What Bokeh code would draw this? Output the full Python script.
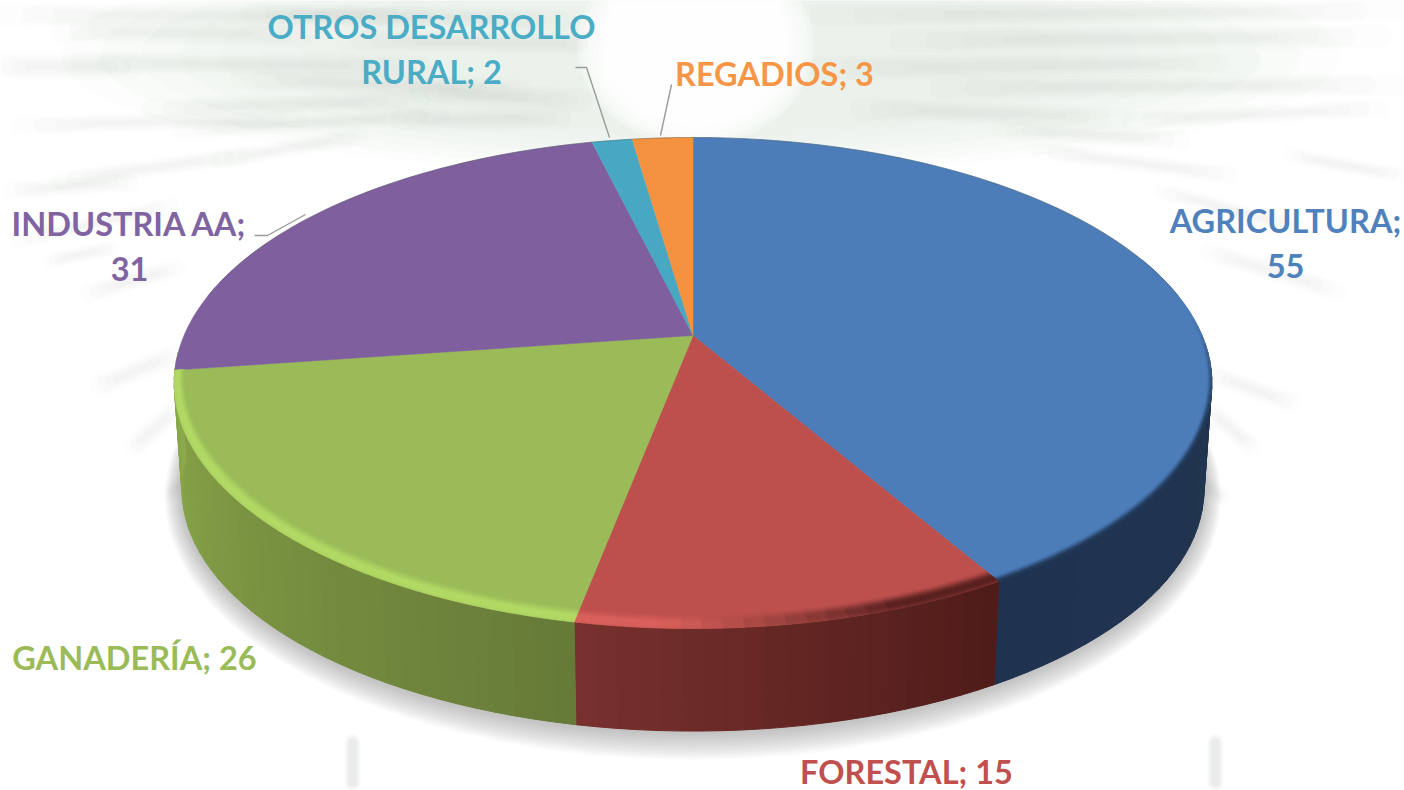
import math
from bokeh.plotting import figure
from bokeh.models import Range1d, ColumnDataSource
from bokeh.core.properties import value
from bokeh.embed import file_html
from bokeh.resources import INLINE

categories = ["AGRICULTURA", "FORESTAL", "GANADERÍA", "INDUSTRIA AA", "OTROS DESARROLLO RURAL", "REGADIOS"]
values = [55, 15, 26, 31, 2, 3]
colors = ["#4c7db9", "#bd504d", "#9bbb59", "#7f5f9e", "#48a8c4", "#f59240"]
label_lines = [["AGRICULTURA;", "55"], ["FORESTAL; 15"], ["GANADERÍA; 26"],
               ["INDUSTRIA AA;", "31"], ["OTROS DESARROLLO", "RURAL; 2"], ["REGADIOS; 3"]]
label_pos = [(1285, 220), (906, 771), (134, 657), (129, 223), (431, 26), (774, 73)]
LINE_GAP = 46
leaders = [([254, 267, 305], [235, 235, 214]), ([575, 586, 609], [67, 67, 137]), ([671, 660], [84, 135])]

# projection of the tilted disc
CX, CY, RX, RY, K = 692.5, 335.0, 509.0, 236.3, 0.1935
DEPTH, BASE_SCALE = 107.0, 0.985

def proj(theta, r=1.0, base=False):
    a = math.radians(theta)
    u, v = r * math.sin(a), r * math.cos(a)
    w = 1 + K * v
    s, dy = (BASE_SCALE, DEPTH) if base else (1.0, 0.0)
    return CX + s * RX * u / w, CY + dy - s * RY * v / w

def hex2(c):
    return tuple(int(c[i:i + 2], 16) for i in (1, 3, 5))

def mix(a, b, t):
    t = max(0.0, min(1.0, t))
    ca, cb = hex2(a), hex2(b)
    return "#%02x%02x%02x" % tuple(round(x + (y - x) * t) for x, y in zip(ca, cb))

def frange(a, b, step=1.0):
    n = max(1, int(math.ceil((b - a) / step)))
    return [a + (b - a) * i / n for i in range(n + 1)]

p = figure(width=1404, height=790, x_range=Range1d(0, 1404), y_range=Range1d(790, 0),
           output_backend="svg", toolbar_location=None, min_border=0,
           background_fill_color="white", border_fill_color="white")
p.axis.visible = False
p.grid.visible = False
p.outline_line_color = None

# ---------- background artwork (faint sunburst) ----------
def blob(cx, cy, rx, ry, col, a):
    p.ellipse([cx], [cy], width=2 * rx, height=2 * ry, fill_color=col, fill_alpha=a, line_color=None)

for i in range(8):
    blob(700, 55, 640 - 40 * i, 118 - 6 * i, "#dcecdf", 0.09)

streaks = [
    (0, 14, 420, 16, 11), (60, 30, 300, 34, 12), (0, 66, 130, 66, 13), (80, 62, 420, 66, 11), (240, 78, 520, 90, 11),
    (250, 12, 560, 20, 10), (360, 40, 620, 44, 10), (420, 92, 580, 100, 12), (20, 125, 300, 118, 9),
    (150, 108, 420, 100, 10), (60, 180, 240, 155, 9), (12, 190, 130, 182, 9), (180, 130, 440, 115, 9),
    (90, 292, 175, 268, 10), (100, 385, 172, 355, 11), (135, 445, 172, 412, 11), (170, 492, 180, 484, 9),
    (20, 240, 170, 205, 8), (50, 260, 110, 248, 8), (220, 160, 360, 135, 9), (400, 120, 560, 118, 11),
    (820, 15, 1400, 10, 11), (900, 40, 1380, 36, 12), (820, 68, 1250, 62, 12), (940, 88, 1400, 84, 11),
    (860, 108, 1120, 118, 11), (1130, 120, 1380, 108, 9), (1040, 150, 1230, 175, 9), (1000, 128, 1180, 140, 10),
    (1210, 252, 1335, 290, 10), (1215, 375, 1290, 402, 10), (1212, 412, 1250, 445, 10), (1205, 485, 1222, 497, 9),
    (600, 8, 600, 60, 8), (790, 8, 790, 70, 8), (1160, 190, 1300, 228, 8), (1290, 155, 1400, 175, 8),
]
for x0, y0, x1, y1, w in streaks:
    # nested, shortened layers so that each streak fades out towards its ends
    for mult, alpha, cut in ((2.0, 0.03, 0.0), (1.5, 0.035, 0.07), (1.0, 0.04, 0.14), (0.6, 0.04, 0.22)):
        ax, ay = x0 + (x1 - x0) * cut, y0 + (y1 - y0) * cut
        bx_, by_ = x1 - (x1 - x0) * cut, y1 - (y1 - y0) * cut
        p.line([ax, bx_], [ay, by_], line_color="#a9b8ae", line_width=w * mult, line_alpha=alpha, line_cap="round")

for i in range(9):
    blob(695, 45, 118 - 5 * i, 100 - 4 * i, "#ffffff", 0.35)

for sx in (352, 1215):
    for w, a in ((16, 0.15), (12, 0.2), (8, 0.25)):
        p.line([sx, sx], [742, 782], line_color="#d5d9d6", line_width=w, line_alpha=a, line_cap="round")

# ---------- soft shadow below the disc ----------
for i in range(14):
    g = 30 - 2.1 * i
    xs, ys = [], []
    for t in frange(0, 360, 3):
        x, y = proj(t, 1.0, True)
        xs.append(CX + (x - CX) * (1 + g / 900))
        ys.append(y + g * 0.95 * max(0.05, (y - 400) / 330))
    p.patch(xs, ys, fill_color="#8c8c8c", fill_alpha=0.04, line_color=None)

# ---------- wedges ----------
edges = [0.0]
for v in values:
    edges.append(edges[-1] + v / sum(values) * 360.0)

# side wall strips: colours follow the angle
side_stops = {0: ("#22364f", "#1f3250"), 1: ("#4e1c19", "#78302e"), 2: ("#667a38", "#8dab4b")}
sx, sy, sc = [], [], []
for i in (0, 1, 2):
    a0 = max(edges[i], 92.0)
    a1 = min(edges[i + 1], 264.0) if i < 2 else 266.0
    seq = frange(a0, a1, 2.0)
    for t0, t1 in zip(seq[:-1], seq[1:]):
        f = ((t0 + t1) / 2 - a0) / (a1 - a0)
        x0, y0 = proj(t0)
        x1, y1 = proj(t1)
        x2, y2 = proj(t1, 1.0, True)
        x3, y3 = proj(t0, 1.0, True)
        sx.append([x0, x1, x2, x3])
        sy.append([y0, y1, y2, y3])
        sc.append(mix(*side_stops[i], f))
p.patches(xs="xs", ys="ys", fill_color="c", line_color="c", line_width=1,
          source=ColumnDataSource(dict(xs=sx, ys=sy, c=sc)))

# top faces
for i, col in enumerate(colors):
    arc = [proj(t) for t in frange(edges[i], edges[i + 1])]
    p.patch([CX] + [q[0] for q in arc], [CY] + [q[1] for q in arc], fill_color=col, line_color=col, line_width=0.5)

# bevel around the front edge
def rim(i, t):
    if i == 0:
        return "#1f3453", min(1.0, max(0.0, (t - 85) / 25))
    if i == 1:
        f = (t - edges[1]) / (edges[2] - edges[1])
        return mix("#501e1c", "#dc625d", (f - 0.25) / 0.55), 0.95
    if i == 2:
        return "#b6de66", 0.9
    return colors[i], 0.0

def rim_r(t, r):
    # the bevel is narrower on screen towards the sides of the disc
    return 1.0 - (1.0 - r) * (0.35 + 0.65 * abs(math.cos(math.radians(t))))

BAND_STEP = 0.003
bx, by, bc = [], [], []
for i in (0, 1, 2):
    seq = frange(max(edges[i], 70.0), edges[i + 1], 2.0)
    r_in = 0.98 if i == 0 else 0.958
    n = int(round((1.0 - r_in) / BAND_STEP))
    for t0, t1 in zip(seq[:-1], seq[1:]):
        target, strength = rim(i, (t0 + t1) / 2)
        for b in range(n):
            r0 = r_in + b * BAND_STEP
            r1 = r0 + BAND_STEP
            f = (b + 0.5) / n
            w = f if i == 0 else min(1.0, f / 0.65) * (1 - 0.3 * max(0.0, (f - 0.75) / 0.25))
            w = w * w * (3 - 2 * w)
            corners = [proj(t0, rim_r(t0, r0)), proj(t1, rim_r(t1, r0)), proj(t1, rim_r(t1, r1)), proj(t0, rim_r(t0, r1))]
            bx.append([q[0] for q in corners])
            by.append([q[1] for q in corners])
            bc.append(mix(colors[i], target, strength * w))
p.patches(xs="xs", ys="ys", fill_color="c", line_color="c", line_width=0.6,
          source=ColumnDataSource(dict(xs=bx, ys=by, c=bc)))

# thin dark back edge
back = [proj(t) for t in frange(280, 440)]
p.line([q[0] for q in back], [q[1] for q in back], line_color="#4a5a5a", line_width=1, line_alpha=0.4)

# leader lines
for lx, ly in leaders:
    p.line(lx, ly, line_color="#9a9a9a", line_width=1.4)

# labels
tx, ty, tt, tc = [], [], [], []
for lines, (lx, ly), col in zip(label_lines, label_pos, ["#4f81bd", "#c0504d", "#9bbb59", "#8064a2", "#4bacc6", "#f79646"]):
    for j, s in enumerate(lines):
        tx.append(lx); ty.append(ly + j * LINE_GAP - (1 if j else 0)); tt.append(s); tc.append(col)
p.text(x="x", y="y", text="t", text_color="c", source=ColumnDataSource(dict(x=tx, y=ty, t=tt, c=tc)),
       text_font=value("Lato"), text_font_style="bold", text_font_size="32.5px",
       text_align="center", text_baseline="middle")

open("out.html", "w").write(file_html(p, INLINE))
